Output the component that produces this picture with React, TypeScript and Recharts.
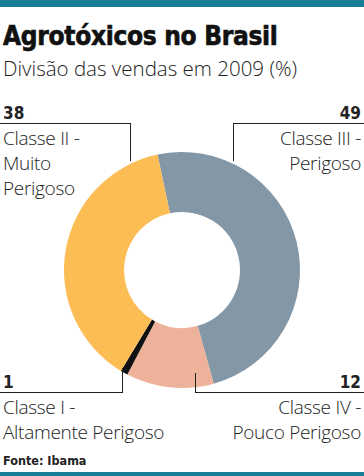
import React from 'react';
import { PieChart, Pie, Cell } from 'recharts';

// Classes toxicológicas, na ordem em que aparecem no gráfico (sentido horário a partir do topo)
const classes = ['Classe III - Perigoso', 'Classe IV - Pouco Perigoso', 'Classe I - Altamente Perigoso', 'Classe II - Muito Perigoso'];
const shares = [49, 12, 1, 38];
const colors = ['#8497A7', '#EEB29B', '#111111', '#FDBD55'];

const data = classes.map((name, i) => ({ name, value: shares[i] }));

const W = 364;
const H = 476;
const TEAL = '#177E95';
const labelFont = '"Open Sans", "Noto Sans", sans-serif';
const numFont = '"DejaVu Sans Condensed", "DejaVu Sans", sans-serif';

const lineStyle: React.CSSProperties = { position: 'absolute', background: '#222' };

const Label: React.FC<{ num: number; lines: string[]; x: number; y: number; align: 'left' | 'right' }> = ({ num, lines, x, y, align }) => (
  <div
    style={{
      position: 'absolute',
      top: y,
      [align]: x,
      textAlign: align,
      fontFamily: labelFont,
      fontWeight: 300,
      fontSize: 19,
      letterSpacing: -0.3,
      lineHeight: '25px',
      color: '#222',
      whiteSpace: 'nowrap',
    }}
  >
    <div style={{ fontFamily: numFont, fontWeight: 700, fontSize: 17, letterSpacing: 0, lineHeight: '20px', marginBottom: 3 }}>{num}</div>
    {lines.map((l) => (
      <div key={l}>{l}</div>
    ))}
  </div>
);

export default function App() {
  return (
    <div style={{ position: 'absolute', left: 0, top: 0, width: W, height: H, background: '#fff', overflow: 'hidden' }}>
      <div style={{ position: 'absolute', left: 0, top: 0, width: W, height: 7, background: TEAL }} />
      <div
        style={{
          position: 'absolute',
          left: 3,
          top: 21,
          fontFamily: numFont,
          fontWeight: 700,
          fontSize: 26,
          letterSpacing: -0.3,
          color: '#111',
          lineHeight: '30px',
          WebkitTextStroke: '0.6px #111',
        }}
      >
        Agrotóxicos no Brasil
      </div>
      <div
        style={{
          position: 'absolute',
          left: 3,
          top: 54,
          fontFamily: labelFont,
          fontWeight: 300,
          fontSize: 20.5,
          color: '#222',
          lineHeight: '28px',
          whiteSpace: 'nowrap',
        }}
      >
        Divisão das vendas em 2009 (%)
      </div>

      <div style={{ position: 'absolute', left: 0, top: 0 }}>
        <PieChart width={W} height={H}>
          <Pie
            data={data}
            dataKey="value"
            nameKey="name"
            cx={177}
            cy={265}
            innerRadius={58}
            outerRadius={118}
            startAngle={102}
            endAngle={-258}
            stroke="none"
            isAnimationActive={false}
          >
            {data.map((_, i) => (
              <Cell key={`cell-${i}`} fill={colors[i]} />
            ))}
          </Pie>
        </PieChart>
      </div>

      {/* linhas de chamada */}
      <div style={{ ...lineStyle, left: 0, top: 123, width: 131, height: 1 }} />
      <div style={{ ...lineStyle, left: 130, top: 123, width: 1, height: 38 }} />
      <div style={{ ...lineStyle, left: 233, top: 123, width: 131, height: 1 }} />
      <div style={{ ...lineStyle, left: 233, top: 123, width: 1, height: 38 }} />
      <div style={{ ...lineStyle, left: 0, top: 392, width: 123, height: 1 }} />
      <div style={{ ...lineStyle, left: 122, top: 368, width: 1, height: 25 }} />
      <div style={{ ...lineStyle, left: 195, top: 392, width: 169, height: 1 }} />
      <div style={{ ...lineStyle, left: 195, top: 373, width: 1, height: 20 }} />

      <Label num={38} lines={['Classe II -', 'Muito', 'Perigoso']} x={3} y={103} align="left" />
      <Label num={49} lines={['Classe III -', 'Perigoso']} x={3} y={103} align="right" />
      <Label num={1} lines={['Classe I -', 'Altamente Perigoso']} x={3} y={372} align="left" />
      <Label num={12} lines={['Classe IV -', 'Pouco Perigoso']} x={3} y={372} align="right" />

      <div
        style={{
          position: 'absolute',
          left: 3,
          top: 453,
          fontFamily: numFont,
          fontWeight: 600,
          fontSize: 12.5,
          color: '#222',
        }}
      >
        Fonte: Ibama
      </div>
      <div style={{ position: 'absolute', left: 0, top: 472, width: W, height: 4, background: TEAL }} />
    </div>
  );
}
